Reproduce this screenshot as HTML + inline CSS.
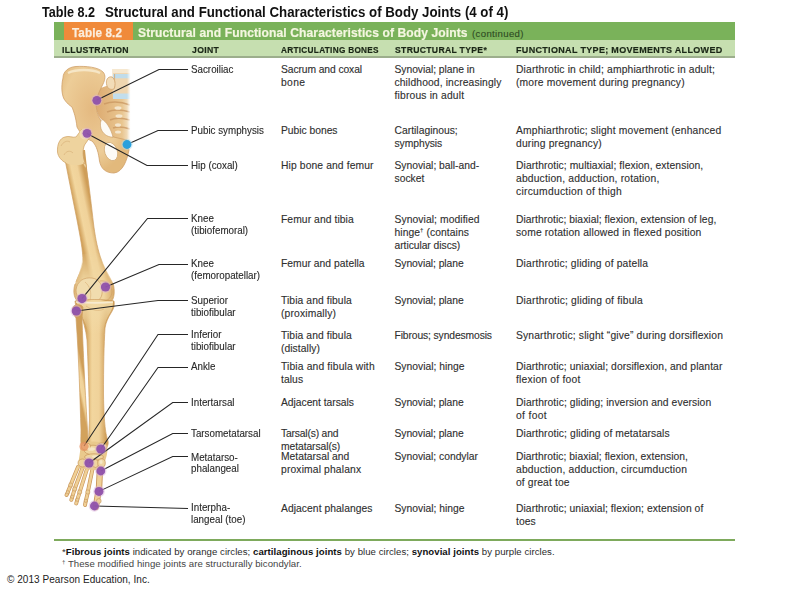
<!DOCTYPE html>
<html><head><meta charset="utf-8">
<style>
html,body{margin:0;padding:0;background:#fff;width:800px;height:600px;overflow:hidden;position:relative;font-family:"Liberation Sans",sans-serif;}
.t{position:absolute;white-space:pre;line-height:1;color:#2e2e2e;font-size:10.3px;-webkit-text-stroke:0.12px #333;}
.j{font-size:10.4px;color:#2a2a2a;-webkit-text-stroke:0.12px #2a2a2a;transform:scaleX(0.942);transform-origin:0 0;}
.t sup{font-size:6px;vertical-align:4px;line-height:0;letter-spacing:0}
.h{position:absolute;white-space:pre;line-height:1;font-weight:bold;font-size:9.3px;color:#1a2616;-webkit-text-stroke:0.2px #1a2616;}
.ti{position:absolute;top:5px;font-weight:bold;font-size:14px;color:#111;white-space:pre;line-height:1;transform-origin:0 0;}
#bar{position:absolute;left:54px;top:22px;width:681px;height:19px;background:#7ab25a;}
#orange{position:absolute;left:64px;top:22px;width:68.5px;height:18.6px;background:#f08a3a;}
#hdr{position:absolute;left:54px;top:40.4px;width:681px;height:16px;background:#c6dfb0;border-bottom:2px solid #9cae8c;}
#foot{position:absolute;left:54px;top:539px;width:681px;height:2px;background:#7eaa5c;}
svg{position:absolute;left:0;top:0;}
.fn{position:absolute;white-space:pre;line-height:1;font-size:9.6px;color:#2b2b2b;letter-spacing:0.05px;}
.fn b{color:#111}

</style></head><body>
<div class="ti" style="left:42px;transform:scaleX(0.90)">Table 8.2</div><div class="ti" style="left:105px;transform:scaleX(0.948)">Structural and Functional Characteristics of Body Joints (4 of 4)</div>
<div id="bar"></div>
<div id="orange"></div>
<div id="hdr"></div>
<div id="foot"></div>
<div class="h" style="left:72px;top:26px;font-size:13px;color:#fbeede;letter-spacing:0.1px;transform:scaleX(0.90);transform-origin:0 0;-webkit-text-stroke:0.25px #fbeede">Table 8.2</div>
<div class="h" style="left:137.5px;top:25.5px;font-size:13px;color:#f4f6e0;letter-spacing:0.1px;transform:scaleX(0.93);transform-origin:0 0;-webkit-text-stroke:0.2px #f4f6e0">Structural and Functional Characteristics of Body Joints</div>
<div class="h" style="left:472px;top:29px;font-size:9.6px;color:#2d4a22;font-weight:normal;letter-spacing:0.35px;-webkit-text-stroke:0.1px #2d4a22">(continued)</div>
<div class="fn" style="left:62px;top:547px">*<b>Fibrous joints</b> indicated by orange circles; <b>cartilaginous joints</b> by blue circles; <b>synovial joints</b> by purple circles.</div>
<div class="fn" style="left:62px;top:559px;color:#444"><sup style="font-size:6px;vertical-align:3px">†</sup> These modified hinge joints are structurally bicondylar.</div>
<div class="fn" style="left:7px;top:575px;font-size:10px;color:#222">© 2013 Pearson Education, Inc.</div>

<svg width="800" height="600" viewBox="0 0 800 600">
<defs>
<linearGradient id="gfem" gradientUnits="userSpaceOnUse" x1="75.5" y1="212" x2="92" y2="208.5"><stop offset="0" stop-color="#d2a25c"/><stop offset="0.3" stop-color="#f2d69e"/><stop offset="0.65" stop-color="#f0d29a"/><stop offset="1" stop-color="#cf9e58"/></linearGradient>
<linearGradient id="gtib" gradientUnits="userSpaceOnUse" x1="86" y1="0" x2="106" y2="0"><stop offset="0" stop-color="#d2a25c"/><stop offset="0.3" stop-color="#f2d69e"/><stop offset="0.65" stop-color="#f0d29a"/><stop offset="1" stop-color="#cf9e58"/></linearGradient>
<linearGradient id="gfib" gradientUnits="userSpaceOnUse" x1="76" y1="380" x2="85" y2="378"><stop offset="0" stop-color="#d2a25c"/><stop offset="0.3" stop-color="#f2d69e"/><stop offset="0.65" stop-color="#f0d29a"/><stop offset="1" stop-color="#cf9e58"/></linearGradient>
<linearGradient id="gb" x1="0" x2="1" y1="0" y2="0">
<stop offset="0" stop-color="#d6a862"/><stop offset="0.35" stop-color="#f3d8a0"/><stop offset="0.7" stop-color="#ecca8c"/><stop offset="1" stop-color="#d4a45e"/>
</linearGradient>
<linearGradient id="gs" x1="0" x2="1" y1="0" y2="0">
<stop offset="0" stop-color="#dcaa70"/><stop offset="0.75" stop-color="#e9c690"/><stop offset="1" stop-color="#f6ead6"/>
</linearGradient>
<linearGradient id="fade" x1="0" x2="1"><stop offset="0" stop-color="#fff" stop-opacity="0"/><stop offset="0.6" stop-color="#fff" stop-opacity="1"/></linearGradient>
<radialGradient id="gi" cx="0.45" cy="0.4" r="0.6">
<stop offset="0" stop-color="#e4b980"/><stop offset="0.7" stop-color="#edcd98"/><stop offset="1" stop-color="#e2b97c"/>
</radialGradient>
</defs>
<!-- sacrum -->
<path d="M96,90 C104,86 112,84 131,84 L131,143 C122,142 115,140 112,137 C110,130 106,123 100,118 C96,112 94,100 96,90 Z" fill="url(#gs)"/>
<g stroke="#c99660" stroke-width="1.6" fill="none" opacity="0.75">
<path d="M104,104 C112,101 122,102 130,105"/><path d="M107,112 C114,109 123,110 130,112"/><path d="M110,120 C116,117 123,118 130,120"/><path d="M113,128 C118,126 124,127 130,129"/>
</g>
<g fill="#f6ead4" opacity="0.9"><ellipse cx="118" cy="108" rx="3.5" ry="1.8"/><ellipse cx="119" cy="116" rx="3.5" ry="1.8"/><ellipse cx="118" cy="125" rx="3" ry="1.8"/><ellipse cx="118" cy="132" rx="3" ry="1.6"/></g>
<!-- L5 -->
<path d="M112.5,69 L131,69 L131,99 L113,99 C112.5,92 112.5,80 112.5,69 Z" fill="#efd6b0"/>
<rect x="112.5" y="69" width="18.5" height="4" fill="#f6e8d0"/>
<rect x="113" y="74" width="18" height="4.3" fill="#c0dcea"/>
<rect x="113" y="93.5" width="18" height="5.5" fill="#c2deec"/>
<path d="M114.6,74 L114.6,88" stroke="#d0a470" stroke-width="0.8"/>
<path d="M107,86 C105,80 108,76 112,77 C115,79 116,84 114,89 C111,90 108,89 107,86 Z" fill="#f2dcb8" stroke="#d0a470" stroke-width="0.8"/>
<rect x="127" y="66" width="6" height="80" fill="url(#fade)"/>
<!-- hip bone -->
<path d="M63,78 C63,72 68,67 76,66.5 C86,66 98,67 103,72 C106,75 105,80 103,84 C100,90 97,96 96,102 C96,110 98,116 100,119 C103,125 106,131 109,136 L127,140 L129,150 C127,160 123,172 114,173 C106,173 101,169 99.5,161 C98.5,153 97,146 92,141 C86,139 80,133 77,127 C76,118 74,112 72,107 C69,105 67,103 65.5,101 C61.5,97 61,86 63,78 Z" fill="url(#gi)" stroke="#cfa068" stroke-width="0.8"/>
<path d="M102,119.5 C106,121 111,129 113,137 C109,137.5 104,135 101.5,130 C100,126 100,121 102,119.5 Z" fill="#fdfbf6" stroke="#c89a64" stroke-width="0.6"/>
<ellipse cx="111" cy="151.5" rx="6.3" ry="9.5" transform="rotate(-20 111 151.5)" fill="#fdfbf6" stroke="#d4ae78" stroke-width="0.8"/>
<path d="M68,73 C76,69 92,69 100,73" stroke="#f6e6c6" stroke-width="2.5" fill="none"/>
<!-- femur proximal -->
<path d="M65.5,150 L85,150 L88.5,182 C90.5,198 92,210 93.3,222 C95,236 97,246 100,256 C103,266 108,276 112,284 L76,282 C78,276 82,270 83,262 C83,250 80,236 77,220 C73,200 69,180 65.5,162 Z" fill="url(#gfem)"/>
<path d="M65.5,162 C69,180 73,200 77,220 C80,236 83,250 83,262 C82,270 78,276 76,282 M112,284 C108,276 103,266 100,256 C97,246 95,236 93.3,222 C92,210 90.5,198 88.5,182 L85,162" fill="none" stroke="#cf9f62" stroke-width="0.7"/>
<path d="M57.5,152 C57,144 60,138 65,137 C69,135.5 73,138 76,137 L82,129 C87,128 91,131 90,137 L84.5,145 C82.5,150 82.5,156 85,163 C80,166 72,166 66,163 C62,161 58,157 57.5,152 Z" fill="#eed39e"/>
<path d="M66,163 C62,161 58,157 57.5,152 C57,144 60,138 65,137 C69,135.5 73,138 76,137 L82,129 M90,137 L84.5,145 C82.5,150 82.5,156 85,163" fill="none" stroke="#cf9f62" stroke-width="0.7"/>
<path d="M61,146 C63,142 67,140 70,142 M64,155 C66,151 70,150 73,153" stroke="#d8b27a" stroke-width="0.7" fill="none"/>
<circle cx="85" cy="134" r="5.5" fill="#f2dcb0"/>
<path d="M83,163 C86,163 87,166 85.5,168" stroke="#cf9f62" stroke-width="0.8" fill="#ecd09c"/>
<!-- knee -->
<linearGradient id="gkn" gradientUnits="userSpaceOnUse" x1="73" y1="0" x2="114" y2="0"><stop offset="0" stop-color="#dcb070"/><stop offset="0.25" stop-color="#f2dba8"/><stop offset="0.75" stop-color="#f0d6a0"/><stop offset="1" stop-color="#d8aa68"/></linearGradient>
<linearGradient id="gkv" gradientUnits="userSpaceOnUse" x1="0" y1="250" x2="0" y2="285"><stop offset="0" stop-color="#fff" stop-opacity="0"/><stop offset="1" stop-color="#fff" stop-opacity="1"/></linearGradient>
<mask id="mk"><rect x="60" y="240" width="70" height="80" fill="url(#gkv)"/></mask>
<path d="M82.5,254 C82,268 78,276 75,284 C72.5,292 74,300 80,303 L110,303 C115,299 115,290 113,283 C110,276 104,268 99.5,252 Z" fill="url(#gkn)" mask="url(#mk)"/>
<path d="M75,284 C72.5,292 74,300 80,303 L110,303 C115,299 115,290 113,283" fill="none" stroke="#cf9f62" stroke-width="0.7"/>
<path d="M76,290 C77,281 84,277 92,278 C100,279 103,286 102,294 C101,300 96,303 90,303 C82,303 76,298 76,290 Z" fill="#f1dcae" stroke="#d0a066" stroke-width="0.7"/>
<path d="M100,281 C106,280 111,284 112,291 C112,297 108,301 103,302" fill="none" stroke="#d0a066" stroke-width="0.7"/>
<path d="M85,282 C90,286 92,293 90,300" fill="none" stroke="#d8ae74" stroke-width="0.6"/>
<!-- tibia -->
<path d="M75,301 C85,299 105,299 114,301 C115,306 113,310 111,313 C108,318 106,322 105,328 C104,345 103.5,365 103.5,395 C104,420 105,432 108,441 C109,446 106,449 102,449 L90,449 C88,444 89,430 89.5,420 C89,390 88,360 87,340 C86,330 83,320 80,312 C77,308 75,305 75,301 Z" fill="url(#gtib)" stroke="#cf9f62" stroke-width="0.7"/>
<linearGradient id="gtv" gradientUnits="userSpaceOnUse" x1="0" y1="302" x2="0" y2="334"><stop offset="0" stop-color="#f2daa6" stop-opacity="0.95"/><stop offset="0.5" stop-color="#f2daa6" stop-opacity="0.6"/><stop offset="1" stop-color="#f2daa6" stop-opacity="0"/></linearGradient>
<path d="M77,302 C85,300 105,300 113,302 C113,306 112,310 110,313 C107,318 105,322 104,328 L104,336 L89,336 C88,330 85,322 81,314 C78,309 77,305 77,302 Z" fill="url(#gtv)"/>
<path d="M86,306 C92,310 98,312 104,309" fill="none" stroke="#d8ae74" stroke-width="0.6"/>
<path d="M76,302 C88,303 104,303 113,302" stroke="#f7ebd0" stroke-width="1.6" fill="none"/>
<!-- fibula -->
<path d="M72.5,310 C72,304 80,303 83,307 L82,318 C83,350 85,390 88,438 C89,444 87,449 83,449 C80,446 81,440 81,430 C80,400 79,360 76,318 C74,315 72.5,313 72.5,310 Z" fill="url(#gfib)" stroke="#cf9f62" stroke-width="0.7"/>
<!-- foot -->
<g stroke-linecap="round" fill="none">
<g stroke="#c9965a" stroke-width="3.9">
<path d="M78,467 L71,484"/><path d="M70.3,486 L68,491.5"/><path d="M67.6,493 L66.5,495"/>
<path d="M82.5,468 L75,488"/><path d="M74.4,490 L72.5,496"/><path d="M72.1,497.5 L71.3,499.8"/>
<path d="M87,469 L80,491"/><path d="M79.5,493 L77.5,499"/><path d="M77.1,500.5 L76.2,503.5"/>
<path d="M92.5,469 L88,491"/><path d="M87.7,493 L86,500"/><path d="M85.7,501.5 L85,505"/>
</g>
<g stroke="#c9965a" stroke-width="6.4"><path d="M100,468 L99,488"/><path d="M98.7,490.5 L97,500"/><path d="M96.7,502 L95.8,507"/></g>
<g stroke="#f0d096" stroke-width="2.5">
<path d="M78,467 L71,484"/><path d="M70.3,486 L68,491.5"/><path d="M67.6,493 L66.5,495"/>
<path d="M82.5,468 L75,488"/><path d="M74.4,490 L72.5,496"/><path d="M72.1,497.5 L71.3,499.8"/>
<path d="M87,469 L80,491"/><path d="M79.5,493 L77.5,499"/><path d="M77.1,500.5 L76.2,503.5"/>
<path d="M92.5,469 L88,491"/><path d="M87.7,493 L86,500"/><path d="M85.7,501.5 L85,505"/>
</g>
<g stroke="#f0d096" stroke-width="4.6"><path d="M100,468 L99,488"/><path d="M98.7,490.5 L97,500"/><path d="M96.7,502 L95.8,507"/></g>
</g>
<g fill="#eccf98" stroke="#c8965a" stroke-width="0.6">
<circle cx="70.7" cy="485" r="2.1"/><circle cx="67.8" cy="492.2" r="1.6"/>
<circle cx="74.7" cy="489" r="2.1"/><circle cx="72.3" cy="496.8" r="1.6"/>
<circle cx="79.7" cy="492" r="2.1"/><circle cx="77.3" cy="499.8" r="1.6"/>
<circle cx="87.8" cy="492" r="2.1"/><circle cx="85.8" cy="500.8" r="1.6"/>
<circle cx="98.8" cy="501" r="2.4"/>
</g>
<path d="M81,444 C86,441 100,440 107,445 C108.5,452 106,458 104.5,463 L104,469 C95,471 85,470 77.5,467 C79,460 80,452 81,444 Z" fill="#e9c98c"/>
<g fill="#efd59f" stroke="#c8965a" stroke-width="0.7">
<ellipse cx="93" cy="450" rx="9" ry="4.8"/>
<ellipse cx="86" cy="446.5" rx="4.5" ry="3.5"/>
<ellipse cx="102" cy="446.5" rx="5" ry="3.6"/>
<ellipse cx="94" cy="457" rx="9.5" ry="3.2"/>
<ellipse cx="82.5" cy="463" rx="4.5" ry="4"/>
<ellipse cx="89.5" cy="464" rx="3.2" ry="4"/>
<ellipse cx="95.5" cy="463.5" rx="3.2" ry="4"/>
<ellipse cx="101.5" cy="463" rx="3.8" ry="4.3"/>
</g>
<g fill="#f8ecd0" opacity="0.8"><ellipse cx="91" cy="449" rx="4" ry="1.8"/><ellipse cx="96" cy="456.5" rx="4" ry="1.3"/><ellipse cx="101" cy="462" rx="1.6" ry="2"/></g>
<g fill="none" stroke="#262626" stroke-width="1.05">
<polyline points="97,100 159,69.5 188,69.5"/>
<polyline points="127,144.5 158,130.5 188,130.5"/>
<polyline points="87,133.5 147,165.5 188,165.5"/>
<polyline points="82,298.6 147.5,218.5 188,218.5"/>
<polyline points="105.5,287 159,264.5 188,264.5"/>
<polyline points="76.3,311 158,300.5 188,300.5"/>
<polyline points="84,446 158,334.5 188,334.5"/>
<polyline points="100.8,449 158,367.5 188,367.5"/>
<polyline points="89,463 172.7,402.5 188,402.5"/>
<polyline points="100.8,471 172.7,433.5 188,433.5"/>
<polyline points="99,491.4 172.7,456.5 188,456.5"/>
<polyline points="94.4,506 188,508.5"/>
</g>
<g fill="#d8b0d8" opacity="0.45"><circle cx="96.8" cy="100.3" r="5.7"/><circle cx="87" cy="133.3" r="5.7"/><circle cx="82" cy="298.6" r="5.9"/><circle cx="105.5" cy="287" r="5.9"/><circle cx="76.3" cy="311" r="5.9"/><circle cx="100.8" cy="449" r="5.9"/><circle cx="89" cy="463" r="5.9"/><circle cx="100.8" cy="471" r="5.7"/><circle cx="99" cy="491.4" r="5.8"/><circle cx="94.4" cy="506" r="5.7"/><circle cx="127" cy="144.5" r="5.7" fill="#a8dcf0"/></g>
<g fill="#8e50ab" opacity="0.93">
<circle cx="96.8" cy="100.3" r="4.4"/>
<circle cx="87" cy="133.3" r="4.4"/>
<circle cx="82" cy="298.6" r="4.6"/>
<circle cx="105.5" cy="287" r="4.6"/>
<circle cx="76.3" cy="311" r="4.6"/>
<circle cx="100.8" cy="449" r="4.6"/>
<circle cx="89" cy="463" r="4.6"/>
<circle cx="100.8" cy="471" r="4.4"/>
<circle cx="99" cy="491.4" r="4.5"/>
<circle cx="94.4" cy="506" r="4.4"/>
</g>
<circle cx="127" cy="144.5" r="4.4" fill="#29a0dc"/>
<circle cx="84" cy="446.5" r="4.6" fill="#e89060" opacity="0.72"/>
</svg>

<div class="t j" style="left:191px;top:65px;">Sacroiliac</div>
<div class="t j" style="left:191px;top:126px;">Pubic symphysis</div>
<div class="t j" style="left:191px;top:161px;">Hip (coxal)</div>
<div class="t j" style="left:191px;top:214px;">Knee</div>
<div class="t j" style="left:191px;top:226px;">(tibiofemoral)</div>
<div class="t j" style="left:191px;top:259px;">Knee</div>
<div class="t j" style="left:191px;top:271px;">(femoropatellar)</div>
<div class="t j" style="left:191px;top:296px;">Superior</div>
<div class="t j" style="left:191px;top:308px;">tibiofibular</div>
<div class="t j" style="left:191px;top:330px;">Inferior</div>
<div class="t j" style="left:191px;top:342px;">tibiofibular</div>
<div class="t j" style="left:191px;top:362px;">Ankle</div>
<div class="t j" style="left:191px;top:398px;">Intertarsal</div>
<div class="t j" style="left:191px;top:429px;">Tarsometatarsal</div>
<div class="t j" style="left:191px;top:453px;">Metatarso-</div>
<div class="t j" style="left:191px;top:464px;">phalangeal</div>
<div class="t j" style="left:191px;top:503px;">Interpha-</div>
<div class="t j" style="left:191px;top:515px;">langeal (toe)</div>
<div class="t" style="left:281px;top:65px;letter-spacing:-0.089px;">Sacrum and coxal</div>
<div class="t" style="left:281px;top:78px;letter-spacing:0.367px;">bone</div>
<div class="t" style="left:281px;top:126px;letter-spacing:-0.016px;">Pubic bones</div>
<div class="t" style="left:281px;top:161px;letter-spacing:0.120px;">Hip bone and femur</div>
<div class="t" style="left:281px;top:215px;letter-spacing:0.079px;">Femur and tibia</div>
<div class="t" style="left:281px;top:259px;letter-spacing:0.035px;">Femur and patella</div>
<div class="t" style="left:281px;top:296px;letter-spacing:0.087px;">Tibia and fibula</div>
<div class="t" style="left:281px;top:309px;letter-spacing:0.154px;">(proximally)</div>
<div class="t" style="left:281px;top:331px;letter-spacing:0.087px;">Tibia and fibula</div>
<div class="t" style="left:281px;top:344px;letter-spacing:0.059px;">(distally)</div>
<div class="t" style="left:281px;top:362px;letter-spacing:0.149px;">Tibia and fibula with</div>
<div class="t" style="left:281px;top:375px;letter-spacing:0.073px;">talus</div>
<div class="t" style="left:281px;top:398px;letter-spacing:-0.024px;">Adjacent tarsals</div>
<div class="t" style="left:281px;top:429px;letter-spacing:-0.174px;">Tarsal(s) and</div>
<div class="t" style="left:281px;top:442px;letter-spacing:-0.065px;">metatarsal(s)</div>
<div class="t" style="left:281px;top:452px;letter-spacing:0.017px;">Metatarsal and</div>
<div class="t" style="left:281px;top:465px;letter-spacing:0.150px;">proximal phalanx</div>
<div class="t" style="left:281px;top:504px;letter-spacing:0.062px;">Adjacent phalanges</div>
<div class="t" style="left:394.5px;top:65px;letter-spacing:-0.027px;">Synovial; plane in</div>
<div class="t" style="left:394.5px;top:78px;letter-spacing:0.122px;">childhood, increasingly</div>
<div class="t" style="left:394.5px;top:91px;letter-spacing:0.172px;">fibrous in adult</div>
<div class="t" style="left:394.5px;top:126px;letter-spacing:0.021px;">Cartilaginous;</div>
<div class="t" style="left:394.5px;top:139px;letter-spacing:-0.038px;">symphysis</div>
<div class="t" style="left:394.5px;top:161px;letter-spacing:-0.005px;">Synovial; ball-and-</div>
<div class="t" style="left:394.5px;top:174px;letter-spacing:0.001px;">socket</div>
<div class="t" style="left:394.5px;top:215px;letter-spacing:0.084px;">Synovial; modified</div>
<div class="t" style="left:394.5px;top:228px;letter-spacing:0.082px;">hinge<sup>†</sup> (contains</div>
<div class="t" style="left:394.5px;top:241px;letter-spacing:-0.040px;">articular discs)</div>
<div class="t" style="left:394.5px;top:259px;letter-spacing:-0.046px;">Synovial; plane</div>
<div class="t" style="left:394.5px;top:296px;letter-spacing:-0.046px;">Synovial; plane</div>
<div class="t" style="left:394.5px;top:331px;letter-spacing:-0.109px;">Fibrous; syndesmosis</div>
<div class="t" style="left:394.5px;top:362px;letter-spacing:0.003px;">Synovial; hinge</div>
<div class="t" style="left:394.5px;top:398px;letter-spacing:-0.046px;">Synovial; plane</div>
<div class="t" style="left:394.5px;top:429px;letter-spacing:-0.046px;">Synovial; plane</div>
<div class="t" style="left:394.5px;top:452px;letter-spacing:-0.007px;">Synovial; condylar</div>
<div class="t" style="left:394.5px;top:504px;letter-spacing:0.003px;">Synovial; hinge</div>
<div class="t" style="left:516px;top:65px;letter-spacing:0.158px;">Diarthrotic in child; amphiarthrotic in adult;</div>
<div class="t" style="left:516px;top:78px;letter-spacing:0.158px;">(more movement during pregnancy)</div>
<div class="t" style="left:516px;top:126px;letter-spacing:0.166px;">Amphiarthrotic; slight movement (enhanced</div>
<div class="t" style="left:516px;top:139px;letter-spacing:0.167px;">during pregnancy)</div>
<div class="t" style="left:516px;top:161px;letter-spacing:0.082px;">Diarthrotic; multiaxial; flexion, extension,</div>
<div class="t" style="left:516px;top:174px;letter-spacing:0.176px;">abduction, adduction, rotation,</div>
<div class="t" style="left:516px;top:187px;letter-spacing:0.267px;">circumduction of thigh</div>
<div class="t" style="left:516px;top:215px;letter-spacing:0.048px;">Diarthrotic; biaxial; flexion, extension of leg,</div>
<div class="t" style="left:516px;top:228px;letter-spacing:0.142px;">some rotation allowed in flexed position</div>
<div class="t" style="left:516px;top:259px;letter-spacing:0.165px;">Diarthrotic; gliding of patella</div>
<div class="t" style="left:516px;top:296px;letter-spacing:0.187px;">Diarthrotic; gliding of fibula</div>
<div class="t" style="left:516px;top:331px;letter-spacing:0.156px;">Synarthrotic; slight “give” during dorsiflexion</div>
<div class="t" style="left:516px;top:362px;letter-spacing:0.079px;">Diarthrotic; uniaxial; dorsiflexion, and plantar</div>
<div class="t" style="left:516px;top:375px;letter-spacing:0.215px;">flexion of foot</div>
<div class="t" style="left:516px;top:398px;letter-spacing:0.093px;">Diarthrotic; gliding; inversion and eversion</div>
<div class="t" style="left:516px;top:411px;letter-spacing:0.338px;">of foot</div>
<div class="t" style="left:516px;top:429px;letter-spacing:0.109px;">Diarthrotic; gliding of metatarsals</div>
<div class="t" style="left:516px;top:452px;letter-spacing:0.050px;">Diarthrotic; biaxial; flexion, extension,</div>
<div class="t" style="left:516px;top:465px;letter-spacing:0.197px;">abduction, adduction, circumduction</div>
<div class="t" style="left:516px;top:478px;letter-spacing:0.132px;">of great toe</div>
<div class="t" style="left:516px;top:504px;letter-spacing:0.069px;">Diarthrotic; uniaxial; flexion; extension of</div>
<div class="t" style="left:516px;top:517px;letter-spacing:0.056px;">toes</div>
<div class="h" style="left:61.5px;top:45px;font-size:9.8px;letter-spacing:0.35px;transform:scaleX(0.8871);transform-origin:0 0;">ILLUSTRATION</div>
<div class="h" style="left:192px;top:45px;font-size:9.8px;letter-spacing:0.35px;transform:scaleX(0.8840);transform-origin:0 0;">JOINT</div>
<div class="h" style="left:281px;top:45px;font-size:9.8px;letter-spacing:0.35px;transform:scaleX(0.8395);transform-origin:0 0;">ARTICULATING BONES</div>
<div class="h" style="left:394.5px;top:45px;font-size:9.8px;letter-spacing:0.35px;transform:scaleX(0.8810);transform-origin:0 0;">STRUCTURAL TYPE*</div>
<div class="h" style="left:515.75px;top:45px;font-size:9.8px;letter-spacing:0.35px;transform:scaleX(0.9193);transform-origin:0 0;">FUNCTIONAL TYPE; MOVEMENTS ALLOWED</div>
</body></html>
